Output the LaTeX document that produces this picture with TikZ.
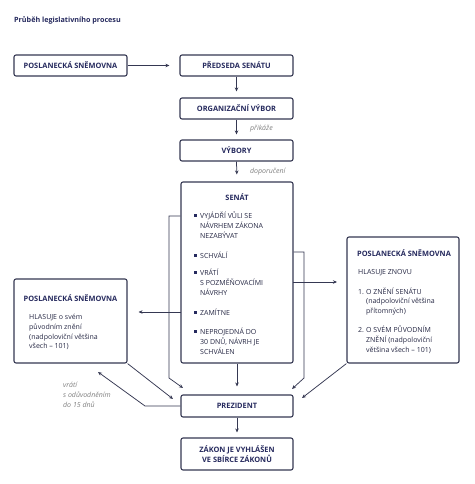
\documentclass[tikz,border=0pt]{standalone}
\usepackage{fontspec}
\setmainfont{Open Sans}
\usetikzlibrary{arrows.meta}
\definecolor{navy}{HTML}{262A5E}
\definecolor{linec}{HTML}{353852}
\definecolor{lbl}{HTML}{808080}
\definecolor{txt}{HTML}{262844}
\begin{document}
\begin{tikzpicture}[x=1pt,y=-1pt,
 box/.style={draw=linec, line width=1.1pt, rounded corners=2pt, minimum width=113pt, minimum height=21pt, inner sep=0pt, font=\fontsize{7.4}{9.6}\selectfont\bfseries, text=navy, align=center},
 conn/.style={draw=linec, line width=0.75pt, -{Stealth[length=4pt,width=3.5pt]}},
 ttl/.style={font=\fontsize{7.4}{9}\selectfont\bfseries, text=navy, inner sep=0pt},
 lab/.style={font=\fontsize{7}{9.8}\selectfont\itshape, text=lbl, align=left, inner sep=0pt, anchor=west},
 body/.style={font=\fontsize{7}{9.8}\selectfont, text=txt, align=left, inner sep=0pt, anchor=west},
 bul/.style={fill=navy, minimum size=3pt, inner sep=0pt},
]
\useasboundingbox[fill=white] (0,0) rectangle (474,484);
\node[ttl, anchor=west, font=\fontsize{7.2}{8}\selectfont\bfseries] (title) at (14,20) {Průběh legislativního procesu};

\node[box] (ps1) at (70.5,65.5) {POSLANECKÁ SNĚMOVNA};
\node[box] (pred) at (236.5,65.5) {PŘEDSEDA SENÁTU};
\node[box] (org) at (236.5,108.5) {ORGANIZAČNÍ VÝBOR};
\node[box] (vyb) at (236.5,150.5) {VÝBORY};
\node[box, minimum width=112pt, minimum height=181pt] (senat) at (237,272.5) {};
\node[box, minimum height=84pt] (ps2) at (70.5,321) {};
\node[box, minimum width=112pt, minimum height=126pt] (ps3) at (403,300) {};
\node[box, minimum width=112pt, minimum height=22pt] (prez) at (237,406) {PREZIDENT};
\node[box, minimum width=112pt, minimum height=32pt] (zakon) at (237,454) {ZÁKON JE VYHLÁŠEN\\VE SBÍRCE ZÁKONŮ};

% Senat content
\node[ttl] (senatt) at (237,197) {SENÁT};
\node[bul] (b1) at (195,215) {};
\node[body] (t1) at (200,225) {VYJÁDŘÍ VŮLI SE\\NÁVRHEM ZÁKONA\\NEZABÝVAT};
\node[bul] (b2) at (195,255) {};
\node[body] (t2) at (200,255) {SCHVÁLÍ};
\node[bul] (b3) at (195,272) {};
\node[body] (t3) at (200,282) {VRÁTÍ\\S POZMĚŇOVACÍMI\\NÁVRHY};
\node[bul] (b4) at (195,312) {};
\node[body] (t4) at (200,312) {ZAMÍTNE};
\node[bul] (b5) at (195,331) {};
\node[body] (t5) at (200,341) {NEPROJEDNÁ DO\\30 DNŮ, NÁVRH JE\\SCHVÁLEN};

% left PS content
\node[ttl] (ps2t) at (70.5,298) {POSLANECKÁ SNĚMOVNA};
\node[body] (ps2b) at (29,332) {HLASUJE o svém\\původním znění\\(nadpoloviční většina\\všech – 101)};

% right PS content
\node[ttl] (ps3t) at (404,253) {POSLANECKÁ SNĚMOVNA};
\node[body] (ps3a) at (358,273) {HLASUJE ZNOVU};
\node[body] (n1) at (358,292) {1.};
\node[body] (ps3b) at (366,301.5) {O ZNĚNÍ SENÁTU\\(nadpoloviční většina\\přítomných)};
\node[body] (n2) at (358,330) {2.};
\node[body] (ps3c) at (366,339.5) {O SVÉM PŮVODNÍM\\ZNĚNÍ (nadpoloviční\\většina všech – 101)};

% labels
\node[lab] (l1) at (250,129) {přikáže};
\node[lab] (l2) at (250,172) {doporučení};
\node[lab] (l3) at (63,395) {vrátí\\s odůvodněním\\do 15 dnů};

% coordinates
\coordinate (c1) at (169,216);
\coordinate (c1b) at (169,378);
\coordinate (p1) at (183,388);
\coordinate (c2) at (181,312);
\coordinate (p2) at (173,399);
\coordinate (c3) at (145,406);
\coordinate (r2) at (98,372);
\coordinate (c4) at (304,252);
\coordinate (c4b) at (304,378);
\coordinate (p4) at (292,389);
\coordinate (c5) at (293,282);
\coordinate (r5) at (337,282);
\coordinate (p5) at (302,398);

% connectors
\draw[conn, shorten >=10pt] (ps1.east) -- (pred.west);
\draw[conn, shorten >=6pt] (pred.south) -- (org.north);
\draw[conn, shorten >=5pt] (org.south) -- (vyb.north);
\draw[conn, shorten >=7pt] (vyb.south) -- (senat.north);
\draw[conn, shorten >=8pt] (senat.south) -- (prez.north);
\draw[conn, shorten >=5pt] (prez.south) -- (zakon.north);

\draw[conn] (senat.west |- c1) -- (c1) -- (c1b) -- (p1);
\draw[conn, shorten >=11pt] (c2) -- (ps2.east |- c2);
\draw[conn] (ps2.south east) -- (p2);
\draw[conn] (prez.west) -- (c3) -- (r2);
\draw[conn] (senat.east |- c4) -- (c4) -- (c4b) -- (p4);
\draw[conn] (c5) -- (r5);
\draw[conn] (ps3.south west) -- (p5);
\end{tikzpicture}
\end{document}
